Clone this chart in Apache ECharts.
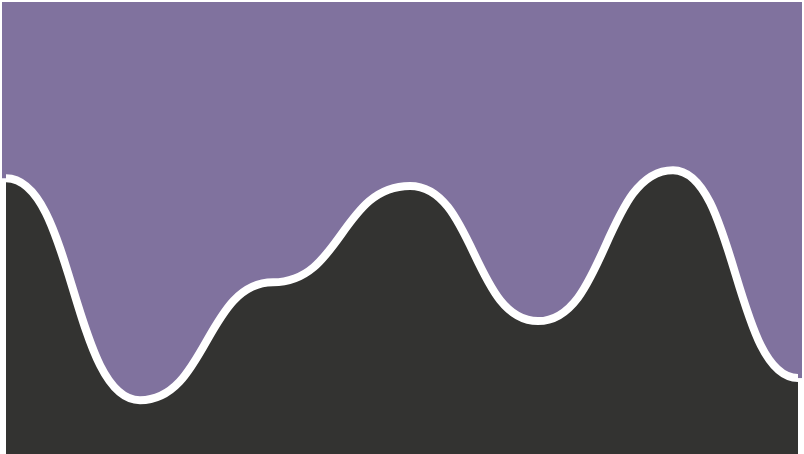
<!DOCTYPE html>
<html>
<head>
<meta charset="utf-8">
<script src="https://cdn.jsdelivr.net/npm/echarts@6/dist/echarts.min.js"></script>
<style>
  html, body { margin: 0; padding: 0; background: #fff; }
  #chart { width: 804px; height: 454px; }
</style>
</head>
<body>
<div id="chart"></div>
<script>
// x positions (grid units 0..792), y values on a 0..100 scale
const xValues = [0, 134, 267, 404, 532, 667, 792];
const values = [61, 11.9, 38, 59.3, 29.4, 62.8, 16.8];

const chart = echarts.init(document.getElementById('chart'));

// horizontal-tangent curve through every point (flat at the ends too)
function renderWave(params, api) {
  const pts = xValues.map((x, i) => api.coord([x, values[i]]));
  const base = api.coord([0, 0])[1];
  let curve = 'M' + pts[0][0] + ',' + pts[0][1];
  for (let i = 1; i < pts.length; i++) {
    const mx = (pts[i - 1][0] + pts[i][0]) / 2;
    curve += ' C' + mx + ',' + pts[i - 1][1] + ' ' + mx + ',' + pts[i][1] + ' ' + pts[i][0] + ',' + pts[i][1];
  }
  const first = pts[0];
  const last = pts[pts.length - 1];
  const area = curve + ' L' + last[0] + ',' + base + ' L' + first[0] + ',' + base + ' Z';
  return {
    type: 'group',
    children: [
      {
        type: 'path',
        shape: { pathData: area },
        style: { fill: '#333331', stroke: null }
      },
      {
        // white edges beside the dark area, below the line ends
        type: 'rect',
        shape: { x: first[0] - 4, y: first[1], width: 4, height: base - first[1] },
        style: { fill: '#ffffff' }
      },
      {
        type: 'rect',
        shape: { x: last[0], y: last[1], width: 4, height: base - last[1] },
        style: { fill: '#ffffff' }
      },
      {
        type: 'path',
        shape: { pathData: curve },
        style: { fill: null, stroke: '#ffffff', lineWidth: 8, lineCap: 'butt', lineJoin: 'round' }
      }
    ]
  };
}

const option = {
  animation: false,
  backgroundColor: '#ffffff',
  grid: { left: 6, right: 6, top: 2, bottom: 0 },
  graphic: [
    {
      type: 'rect',
      z: -10,
      shape: { x: 2, y: 2, width: 800, height: 452 },
      style: { fill: '#80729e' },
      silent: true
    }
  ],
  xAxis: {
    type: 'value',
    min: 0,
    max: 792,
    show: false
  },
  yAxis: {
    type: 'value',
    min: 0,
    max: 100,
    show: false
  },
  series: [
    {
      type: 'custom',
      clip: false,
      silent: true,
      data: [0],
      renderItem: renderWave
    }
  ]
};

chart.setOption(option);
</script>
</body>
</html>
